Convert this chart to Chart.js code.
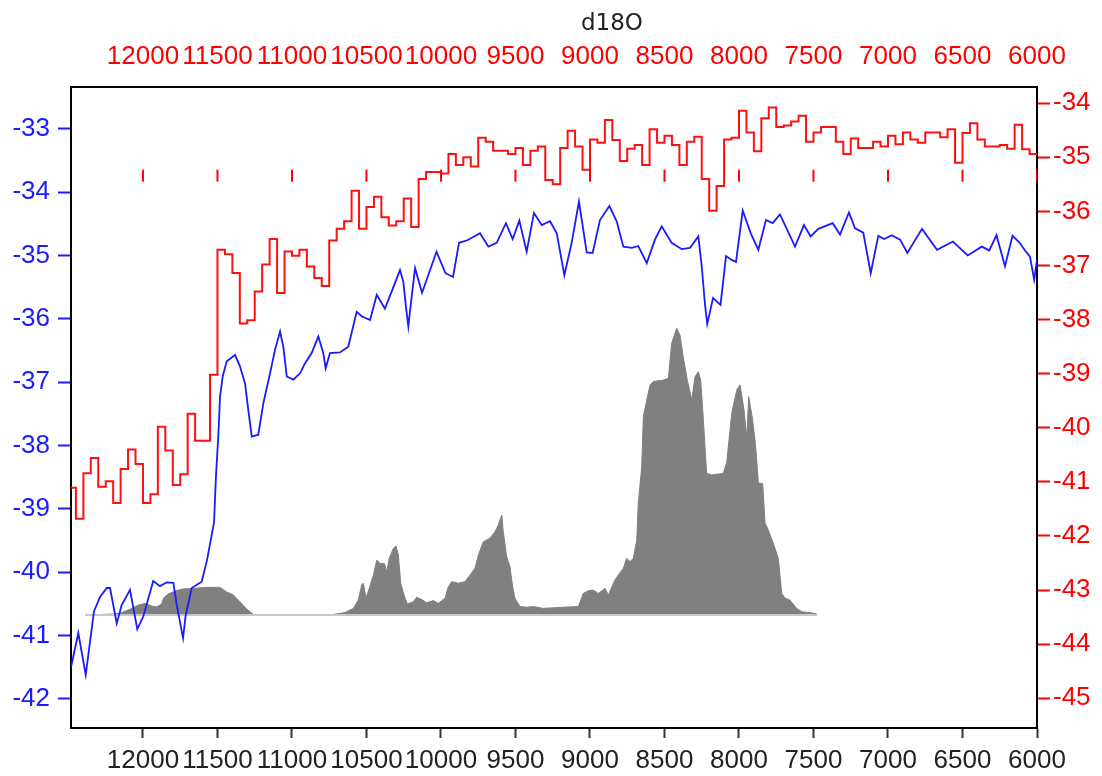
<!DOCTYPE html>
<html>
<head>
<meta charset="utf-8">
<script src="https://cdn.jsdelivr.net/npm/chart.js@4.4.1/dist/chart.umd.min.js"></script>
<style>
  body { margin: 0; background: #fff; }
  #wrap { position: relative; width: 1102px; height: 776px; }
  #title { position: absolute; left: 612px; top: 9px; transform: translateX(-50%);
           font: 23px "DejaVu Sans", sans-serif; line-height: 26px; color: #222; }
</style>
</head>
<body>
<div id="wrap">
  <canvas id="chart" width="1102" height="776"></canvas>
  <div id="title">d18O</div>
</div>
<script>
// tick labels
const xTicks = [12000, 11500, 11000, 10500, 10000, 9500, 9000, 8500, 8000, 7500, 7000, 6500, 6000];
const leftTicks = [-33, -34, -35, -36, -37, -38, -39, -40, -41, -42];
const rightTicks = [-34, -35, -36, -37, -38, -39, -40, -41, -42, -43, -44, -45];

// red stepped series (right axis), one value per 50 yr step
const redYears = [12500,12450,12400,12350,12300,12250,12200,12150,12100,12050,
  12000,11950,11900,11850,11800,11750,11700,11650,11600,11550,
  11500,11450,11400,11350,11300,11250,11200,11150,11100,11050,
  11000,10950,10900,10850,10800,10750,10700,10650,10600,10550,
  10500,10450,10400,10350,10300,10250,10200,10150,10100,10050,
  10000,9950,9900,9850,9800,9750,9700,9650,9600,9550,
  9500,9450,9400,9350,9300,9250,9200,9150,9100,9050,
  9000,8950,8900,8850,8800,8750,8700,8650,8600,8550,
  8500,8450,8400,8350,8300,8250,8200,8150,8100,8050,
  8000,7950,7900,7850,7800,7750,7700,7650,7600,7550,
  7500,7450,7400,7350,7300,7250,7200,7150,7100,7050,
  7000,6950,6900,6850,6800,6750,6700,6650,6600,6550,
  6500,6450,6400,6350,6300,6250,6200,6150,6100,6050,6000];
const redValues = [-41.11,-41.68,-40.84,-40.56,-41.09,-40.99,-41.39,-40.76,-40.40,-40.67,
  -41.39,-41.23,-39.98,-40.42,-41.06,-40.86,-39.74,-40.24,-40.24,-39.02,
  -36.71,-36.79,-37.14,-38.07,-38.01,-37.48,-36.98,-36.51,-37.51,-36.74,
  -36.82,-36.71,-37.02,-37.23,-37.38,-36.54,-36.32,-36.18,-35.62,-36.32,
  -35.92,-35.73,-36.11,-36.26,-36.18,-35.76,-36.29,-35.40,-35.27,-35.27,
  -35.30,-34.94,-35.14,-35.00,-35.17,-34.64,-34.71,-34.88,-34.88,-34.94,
  -34.83,-35.14,-34.88,-34.80,-35.42,-35.50,-34.83,-34.51,-34.80,-35.23,
  -34.67,-34.73,-34.31,-34.68,-35.07,-34.84,-34.77,-35.14,-34.48,-34.73,
  -34.60,-34.77,-35.14,-34.71,-34.62,-35.40,-35.99,-35.53,-34.67,-34.64,
  -34.14,-34.54,-34.89,-34.28,-34.08,-34.44,-34.41,-34.34,-34.23,-34.71,
  -34.54,-34.44,-34.44,-34.71,-34.94,-34.65,-34.83,-34.83,-34.71,-34.80,
  -34.60,-34.76,-34.54,-34.67,-34.73,-34.54,-34.54,-34.63,-34.48,-35.10,
  -34.55,-34.37,-34.67,-34.80,-34.80,-34.77,-34.84,-34.40,-34.85,-34.94,-34.94];

// blue series (left axis)
const blueYears = [12483,12434,12384,12329,12288,12243,12221,12176,12143,12087,
  12038,11998,11931,11886,11841,11796,11773,11731,11714,11673,
  11606,11570,11523,11510,11494,11483,11465,11438,11382,11349,
  11315,11293,11270,11226,11192,11147,11114,11080,11058,11035,
  10991,10946,10912,10868,10823,10790,10774,10745,10678,10622,
  10566,10532,10476,10431,10376,10275,10253,10235,10219,10203,
  10174,10127,10030,9970,9919,9879,9823,9738,9682,9626,
  9564,9519,9474,9425,9376,9324,9268,9223,9172,9123,
  9074,9022,8982,8933,8870,8821,8776,8720,8676,8619,
  8564,8519,8452,8384,8329,8273,8250,8228,8213,8174,
  8124,8087,8049,8020,7975,7921,7870,7819,7774,7725,
  7624,7564,7519,7468,7371,7322,7262,7221,7166,7116,
  7065,7025,6975,6919,6870,6772,6671,6564,6465,6371,
  6320,6272,6215,6164,6116,6074,6047,6019,6000];
const blueValues = [-41.50,-40.96,-41.62,-40.62,-40.39,-40.25,-40.25,-40.81,-40.52,-40.28,
  -40.90,-40.70,-40.14,-40.22,-40.16,-40.17,-40.52,-41.04,-40.69,-40.25,
  -40.15,-39.81,-39.21,-38.48,-37.83,-37.23,-36.91,-36.67,-36.57,-36.75,
  -37.02,-37.44,-37.86,-37.83,-37.33,-36.86,-36.49,-36.20,-36.44,-36.91,
  -36.96,-36.86,-36.70,-36.54,-36.28,-36.54,-36.78,-36.54,-36.53,-36.44,
  -35.89,-35.96,-36.02,-35.62,-35.84,-35.23,-35.41,-35.81,-36.12,-35.78,
  -35.20,-35.59,-34.94,-35.28,-35.34,-34.80,-34.76,-34.65,-34.86,-34.80,
  -34.49,-34.74,-34.45,-34.94,-34.33,-34.52,-34.46,-34.65,-35.31,-34.80,
  -34.15,-34.95,-34.96,-34.44,-34.22,-34.46,-34.86,-34.88,-34.85,-35.12,
  -34.75,-34.54,-34.80,-34.90,-34.88,-34.70,-35.17,-35.78,-36.08,-35.67,
  -35.78,-35.01,-35.07,-35.10,-34.29,-34.65,-34.91,-34.44,-34.49,-34.35,
  -34.86,-34.52,-34.70,-34.58,-34.49,-34.67,-34.32,-34.57,-34.64,-35.28,
  -34.69,-34.74,-34.68,-34.75,-34.96,-34.58,-34.91,-34.78,-35.00,-34.86,
  -34.92,-34.68,-35.17,-34.69,-34.80,-34.94,-35.02,-35.38,-35.07];

// grey filled curve (own hidden scale, 0 = baseline)
const greyYears = [12389,12199,12154,12087,12031,11986,11941,11908,11874,11863,
  11830,11785,11729,11662,11595,11528,11483,11438,11394,11349,
  11304,11259,11214,10745,10644,10588,10555,10532,10521,10503,
  10481,10454,10431,10409,10380,10364,10347,10320,10302,10286,
  10270,10248,10226,10186,10163,10123,10096,10051,10018,9973,
  9951,9928,9884,9839,9805,9772,9749,9716,9671,9637,
  9615,9592,9582,9559,9537,9519,9503,9470,9425,9380,
  9313,9179,9078,9045,9011,8978,8944,8899,8877,8832,
  8810,8776,8754,8731,8709,8686,8676,8653,8642,8619,
  8597,8575,8508,8474,8452,8418,8396,8374,8347,8317,
  8295,8273,8257,8239,8217,8183,8105,8082,8049,8015,
  7993,7966,7948,7935,7908,7886,7870,7841,7825,7803,
  7770,7736,7713,7691,7658,7613,7579,7501,7478];
const greyValues = [0,0.3,0.6,1.9,3.3,3.9,3.0,2.7,3.7,5.6,
  7.0,8.0,8.7,8.8,9.2,9.2,9.2,7.7,6.7,4.4,
  2.0,0.2,0,0,0.8,2.2,5.0,10.0,10.6,5.6,
  8.9,13.3,18.3,17.2,17.2,14.4,18.9,22.2,23.0,20.0,
  10.6,6.7,3.7,4.4,5.9,5.0,4.1,4.8,3.9,5.6,
  9.4,11.1,10.6,11.1,13.3,15.6,20.0,24.4,25.6,27.8,
  30.0,33.3,27.8,19.4,16.1,9.4,5.6,2.8,2.6,2.8,
  2.2,2.6,2.8,7.2,8.1,8.3,7.2,8.9,6.7,11.7,
  13.3,15.6,18.9,17.8,18.9,25.0,37.2,49.4,66.1,71.7,
  76.7,77.8,78.3,78.9,90.6,95.6,93.3,86.1,78.3,71.7,
  79.4,81.1,78.3,65.0,47.2,46.7,47.2,51.1,67.2,75.0,
  76.7,68.3,58.9,72.8,65.0,55.0,43.9,43.9,30.6,28.3,
  23.9,18.9,7.2,5.6,5.0,2.2,1.1,0.6,0.3];

// small red marks inside the plot, one per 500 yr (right axis level)
const markYears = xTicks;
const markLevel = -35.34;

const toXY = (xs, ys) => xs.map((x, i) => ({ x: x, y: ys[i] }));
const fixTicks = arr => scale => { scale.ticks = arr.map(v => ({ value: v })); };
const plain = v => String(v);
const font = { family: 'Liberation Sans', size: 26 };

new Chart(document.getElementById('chart'), {
  type: 'line',
  data: {
    datasets: [
      {
        data: markYears.map(x => ({ x: x, y: markLevel })),
        yAxisID: 'y2', showLine: false, pointStyle: 'line', rotation: 90,
        pointRadius: 6, pointBorderWidth: 2, pointBorderColor: '#ff0000', order: 0
      },
      {
        data: toXY(redYears, redValues), yAxisID: 'y2', stepped: 'before',
        borderColor: '#ff1010', borderWidth: 2, pointRadius: 0, order: 1
      },
      {
        data: toXY(blueYears, blueValues), yAxisID: 'y',
        borderColor: '#1a1aff', borderWidth: 1.8, pointRadius: 0, order: 2
      },
      {
        data: [{ x: greyYears[0], y: 0 }, { x: greyYears[greyYears.length - 1], y: 0 }],
        yAxisID: 'y3', borderColor: '#c8c8c8', borderWidth: 2, pointRadius: 0, order: 4
      },
      {
        data: toXY(greyYears, greyValues), yAxisID: 'y3', fill: 'origin',
        backgroundColor: '#808080', borderColor: '#808080', borderWidth: 1,
        pointRadius: 0, order: 5
      }
    ]
  },
  options: {
    responsive: false,
    animation: false,
    layout: { padding: 0 },
    plugins: { legend: { display: false }, tooltip: { enabled: false }, title: { display: false } },
    scales: {
      x: {
        type: 'linear', position: 'bottom', reverse: true, min: 6000, max: 12483,
        afterBuildTicks: fixTicks(xTicks),
        afterFit: s => { s.height = 48; },
        grid: { drawOnChartArea: false, tickLength: 10, tickColor: '#333', tickWidth: 2 },
        border: { color: '#000', width: 2 },
        ticks: { autoSkip: false, maxRotation: 0, padding: 7, color: '#222', font: font, callback: plain }
      },
      x2: {
        type: 'linear', position: 'top', reverse: true, min: 6000, max: 12483,
        afterBuildTicks: fixTicks(xTicks),
        afterFit: s => { s.height = 87; },
        grid: { drawOnChartArea: false, drawTicks: false },
        border: { color: '#000', width: 2 },
        ticks: { autoSkip: false, maxRotation: 0, padding: 15, color: '#ff0000', font: font, callback: plain }
      },
      y: {
        position: 'left', min: -42.46, max: -32.34,
        afterBuildTicks: fixTicks(leftTicks),
        afterFit: s => { s.width = 71; },
        grid: { drawOnChartArea: false, tickLength: 13, tickColor: '#1a1aff', tickWidth: 2 },
        border: { color: '#000', width: 2 },
        ticks: { padding: 8, color: '#1a1aff', font: font, callback: plain }
      },
      y2: {
        position: 'right', min: -45.55, max: -33.70,
        afterBuildTicks: fixTicks(rightTicks),
        afterFit: s => { s.width = 65; },
        grid: { drawOnChartArea: false, tickLength: 13, tickColor: '#ff0000', tickWidth: 2 },
        border: { color: '#000', width: 2 },
        ticks: { padding: 3, color: '#ff0000', font: font, callback: plain }
      },
      y3: { display: false, min: -37.67, max: 176 }
    }
  }
});
</script>
</body>
</html>
